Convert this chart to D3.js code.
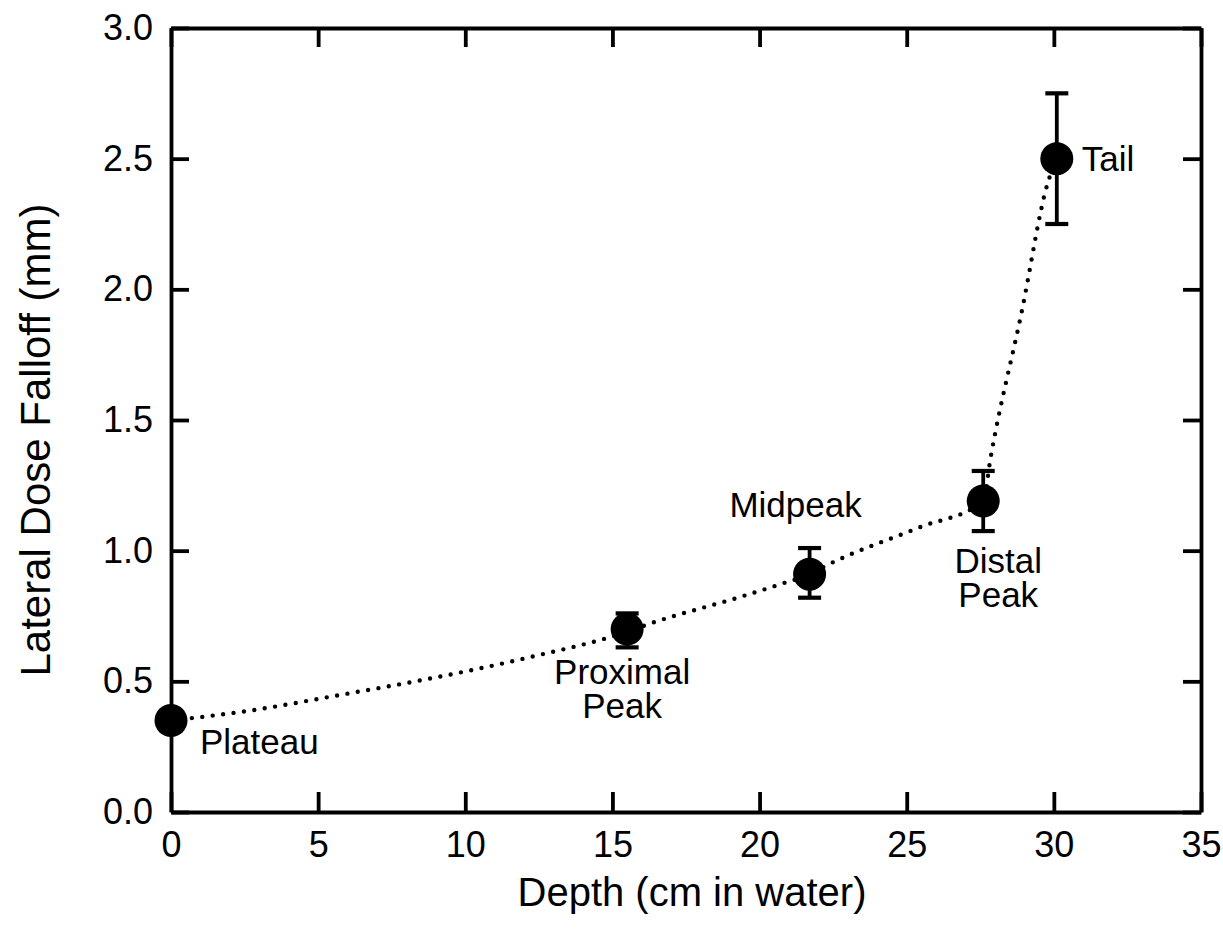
<!DOCTYPE html>
<html>
<head>
<meta charset="utf-8">
<script src="https://cdn.jsdelivr.net/npm/d3@7.9.0/dist/d3.min.js"></script>
<style>
  body { margin: 0; background: #fff; }
  svg { display: block; font-family: "Liberation Sans", Arial, sans-serif; }
</style>
</head>
<body>
<svg id="chart" width="1223" height="931"></svg>
<script>
// measured points
const labels = ['Plateau', 'Proximal Peak', 'Midpeak', 'Distal Peak', 'Tail'];
const depth = [0, 15.5, 21.7, 27.6, 30.1];
const falloff = [0.35, 0.70, 0.91, 1.19, 2.50];
const errLow = [null, 0.63, 0.82, 1.075, 2.25];
const errHigh = [null, 0.76, 1.01, 1.305, 2.75];

// dotted fit curve
const curveDepth = [0, 2.8, 5.6, 9.0, 12.1, 15.5, 16.2, 19.4, 20.8, 21.7, 22.3, 25.4, 27.6, 27.85, 28.9, 29.8, 30.1];
const curveValue = [0.35, 0.39, 0.445, 0.515, 0.59, 0.69, 0.718, 0.825, 0.875, 0.91, 0.945, 1.088, 1.19, 1.355, 1.91, 2.41, 2.5];

const xTicks = [0, 5, 10, 15, 20, 25, 30, 35];
const yTicks = [0, 0.5, 1.0, 1.5, 2.0, 2.5, 3.0];

const margin = { top: 28, right: 22, bottom: 119, left: 171 };
const width = 1223 - margin.left - margin.right;
const height = 931 - margin.top - margin.bottom;

const svg = d3.select('#chart');
const g = svg.append('g').attr('transform', `translate(${margin.left},${margin.top})`);

const x = d3.scaleLinear().domain([0, 35]).range([0, width]);
const y = d3.scaleLinear().domain([0, 3]).range([height, 0]);

function styleAxis(sel) {
  sel.select('.domain').attr('stroke', '#000').attr('stroke-width', 3.8);
  sel.selectAll('.tick line').attr('stroke', '#000').attr('stroke-width', 3.8);
  sel.selectAll('.tick text').attr('fill', '#000').attr('font-size', 36);
}

g.append('g')
  .attr('transform', `translate(0,${height})`)
  .call(d3.axisBottom(x).tickValues(xTicks).tickFormat(d3.format('d'))
    .tickSizeInner(-20).tickSizeOuter(0).tickPadding(19))
  .call(styleAxis);

g.append('g')
  .call(d3.axisTop(x).tickValues(xTicks).tickFormat('')
    .tickSizeInner(-19).tickSizeOuter(0))
  .call(styleAxis);

g.append('g')
  .call(d3.axisLeft(y).tickValues(yTicks).tickFormat(d3.format('.1f'))
    .tickSizeInner(-18).tickSizeOuter(0).tickPadding(18))
  .call(styleAxis);

g.append('g')
  .attr('transform', `translate(${width},0)`)
  .call(d3.axisRight(y).tickValues(yTicks).tickFormat('')
    .tickSizeInner(-18).tickSizeOuter(0))
  .call(styleAxis);

// dotted fit
const curvePts = curveDepth.map((d, i) => [d, curveValue[i]]);
g.append('path')
  .datum(curvePts)
  .attr('fill', 'none')
  .attr('stroke', '#000')
  .attr('stroke-width', 4.4)
  .attr('stroke-linecap', 'round')
  .attr('stroke-dasharray', '0 10.5')
  .attr('d', d3.line().x(d => x(d[0])).y(d => y(d[1])).curve(d3.curveMonotoneX));

// error bars
const pts = depth.map((d, i) => ({ d, v: falloff[i], lo: errLow[i], hi: errHigh[i], label: labels[i] }));
const eb = g.append('g').attr('stroke', '#000').attr('stroke-width', 3.8);
pts.filter(p => p.lo != null).forEach(p => {
  eb.append('line').attr('x1', x(p.d)).attr('x2', x(p.d)).attr('y1', y(p.lo)).attr('y2', y(p.hi));
  [p.lo, p.hi].forEach(v => {
    eb.append('line').attr('x1', x(p.d) - 11.5).attr('x2', x(p.d) + 11.5)
      .attr('y1', y(v)).attr('y2', y(v)).attr('stroke-width', 4.2);
  });
});

g.selectAll('circle.pt')
  .data(pts)
  .join('circle')
  .attr('class', 'pt')
  .attr('cx', p => x(p.d))
  .attr('cy', p => y(p.v))
  .attr('r', 16.5)
  .attr('fill', '#000');

// point labels
const notes = [
  { lines: ['Plateau'], dx: 29, dy: 33, anchor: 'start' },
  { lines: ['Proximal', 'Peak'], dx: -5, dy: 55, anchor: 'middle' },
  { lines: ['Midpeak'], dx: -14, dy: -57, anchor: 'middle' },
  { lines: ['Distal', 'Peak'], dx: 15, dy: 72, anchor: 'middle' },
  { lines: ['Tail'], dx: 25, dy: 12, anchor: 'start' }
];
notes.forEach((n, i) => {
  const t = g.append('text')
    .attr('x', x(depth[i]) + n.dx)
    .attr('y', y(falloff[i]) + n.dy)
    .attr('text-anchor', n.anchor)
    .attr('font-size', 35)
    .attr('fill', '#000');
  n.lines.forEach((line, j) => {
    t.append('tspan').attr('x', x(depth[i]) + n.dx).attr('dy', j === 0 ? 0 : 34).text(line);
  });
});

// axis titles
svg.append('text')
  .attr('x', 692)
  .attr('y', 906)
  .attr('text-anchor', 'middle')
  .attr('font-size', 40)
  .text('Depth (cm in water)');

svg.append('text')
  .attr('transform', `translate(50,440) rotate(-90)`)
  .attr('text-anchor', 'middle')
  .attr('font-size', 42)
  .text('Lateral Dose Falloff (mm)');
</script>
</body>
</html>
